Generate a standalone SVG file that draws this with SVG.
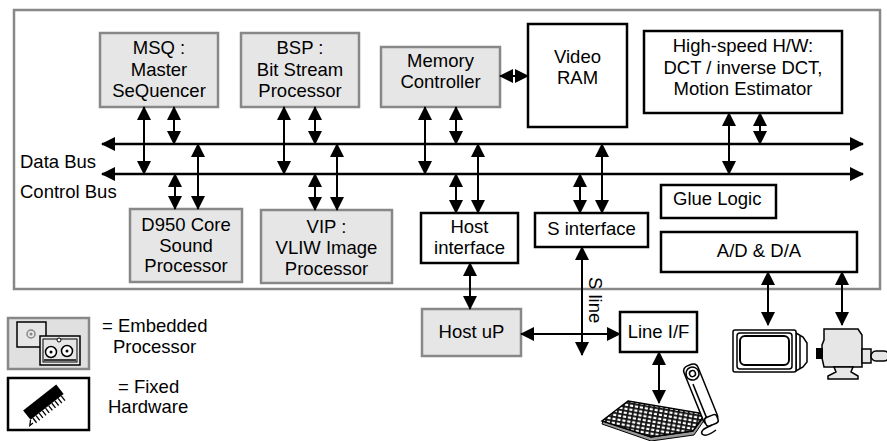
<svg xmlns="http://www.w3.org/2000/svg" width="887" height="441" viewBox="0 0 887 441">
  <style>
    .t { font-family: "Liberation Sans", Arial, sans-serif; font-size: 18.5px; fill: #000; }
    .c { text-anchor: middle; }
    .gbox { fill: #e6e6e6; stroke: #888; stroke-width: 2.5; }
    .bbox { fill: #fff; stroke: #000; stroke-width: 2.5; }
    .bus { stroke: #000; stroke-width: 2.5; marker-start: url(#ah); marker-end: url(#ah); }
    #connectors line { stroke: #000; stroke-width: 2; marker-start: url(#ah); marker-end: url(#ah); }
    .ln { fill: none; stroke: #000; stroke-width: 1.5; }
  </style>
  <defs>
    <marker id="ah" viewBox="0 0 14 14" refX="13" refY="7" markerWidth="14" markerHeight="14" markerUnits="userSpaceOnUse" orient="auto-start-reverse">
      <path d="M0,0 L14,7 L0,14 z" fill="#000"/>
    </marker>
    <pattern id="keys" width="5" height="4" patternUnits="userSpaceOnUse" patternTransform="rotate(10)">
      <rect width="5" height="4" fill="#111"/>
      <rect x="0.8" y="0.8" width="3.2" height="2.2" fill="#fff"/>
    </pattern>
  </defs>

  <rect width="887" height="441" fill="#fff"/>

  <!-- chip boundary -->
  <rect id="chip" x="14" y="10" width="866" height="279" fill="#fff" stroke="#888" stroke-width="2.5"/>

  <!-- buses -->
  <g id="buses">
    <line class="bus" x1="102" y1="144" x2="863" y2="144"/>
    <line class="bus" x1="102" y1="174" x2="863" y2="174"/>
    <text class="t" x="20" y="168">Data Bus</text>
    <text class="t" x="20" y="198">Control Bus</text>
  </g>

  <g id="msq">
    <rect class="gbox" x="100" y="33" width="118" height="74"/>
    <text class="t c" x="159" y="54">MSQ :</text>
    <text class="t c" x="159" y="76">Master</text>
    <text class="t c" x="159" y="97">SeQuencer</text>
  </g>

  <g id="bsp">
    <rect class="gbox" x="241" y="33" width="118" height="74"/>
    <text class="t c" x="300" y="54">BSP :</text>
    <text class="t c" x="300" y="76">Bit Stream</text>
    <text class="t c" x="300" y="97">Processor</text>
  </g>

  <g id="memctrl">
    <rect class="gbox" x="381" y="47" width="119" height="60"/>
    <text class="t c" x="440.5" y="67">Memory</text>
    <text class="t c" x="440.5" y="88">Controller</text>
  </g>

  <g id="vram">
    <rect class="bbox" x="528" y="24" width="99" height="103"/>
    <text class="t c" x="577.5" y="63">Video</text>
    <text class="t c" x="577.5" y="84">RAM</text>
  </g>

  <g id="hshw">
    <rect class="bbox" x="644" y="31" width="198" height="82"/>
    <text class="t c" x="743" y="52">High-speed H/W:</text>
    <text class="t c" x="743" y="74">DCT / inverse DCT,</text>
    <text class="t c" x="743" y="95">Motion Estimator</text>
  </g>

  <g id="d950">
    <rect class="gbox" x="130" y="209" width="112" height="73"/>
    <text class="t c" x="186" y="231">D950 Core</text>
    <text class="t c" x="186" y="252">Sound</text>
    <text class="t c" x="186" y="272">Processor</text>
  </g>

  <g id="vip">
    <rect class="gbox" x="261" y="210" width="131" height="73"/>
    <text class="t c" x="326.5" y="233">VIP :</text>
    <text class="t c" x="326.5" y="254">VLIW Image</text>
    <text class="t c" x="326.5" y="275">Processor</text>
  </g>

  <g id="hostif">
    <rect class="bbox" x="421" y="213" width="97" height="50"/>
    <text class="t c" x="469.5" y="233">Host</text>
    <text class="t c" x="469.5" y="254">interface</text>
  </g>

  <g id="sif">
    <rect class="bbox" x="535" y="213" width="113" height="34"/>
    <text class="t c" x="591.5" y="235">S interface</text>
  </g>

  <g id="glue">
    <rect class="bbox" x="661" y="185" width="115" height="33"/>
    <text class="t" x="673" y="205">Glue Logic</text>
  </g>

  <g id="adda">
    <rect class="bbox" x="661" y="232" width="196" height="40"/>
    <text class="t c" x="759" y="257">A/D &amp; D/A</text>
  </g>

  <g id="hostup">
    <rect class="gbox" x="422" y="309" width="99" height="47"/>
    <text class="t c" x="471.5" y="338">Host uP</text>
  </g>

  <g id="lineif">
    <rect class="bbox" x="620" y="312" width="77" height="40"/>
    <text class="t c" x="658.5" y="338">Line I/F</text>
  </g>

  <!-- connectors -->
  <g id="connectors">
    <line x1="144" y1="107" x2="144" y2="174"/>
    <line x1="174" y1="107" x2="174" y2="144"/>
    <line x1="175" y1="174" x2="175" y2="209"/>
    <line x1="198" y1="144" x2="198" y2="209"/>
    <line x1="284" y1="107" x2="284" y2="174"/>
    <line x1="315" y1="107" x2="315" y2="144"/>
    <line x1="315" y1="174" x2="315" y2="210"/>
    <line x1="337" y1="144" x2="337" y2="210"/>
    <line x1="425" y1="107" x2="425" y2="174"/>
    <line x1="456" y1="107" x2="456" y2="144"/>
    <line x1="456" y1="174" x2="456" y2="213"/>
    <line x1="478" y1="144" x2="478" y2="213"/>
    <line x1="580" y1="174" x2="580" y2="213"/>
    <line x1="602" y1="144" x2="602" y2="213"/>
    <line x1="729" y1="113" x2="729" y2="174"/>
    <line x1="760" y1="113" x2="760" y2="144"/>
    <line x1="500" y1="76" x2="528" y2="76"/>
    <line x1="470" y1="263" x2="470" y2="309"/>
    <line x1="521" y1="334" x2="620" y2="334"/>
    <line x1="582" y1="247" x2="582" y2="355"/>
    <line x1="659" y1="352" x2="659" y2="403"/>
    <line x1="768" y1="272" x2="768" y2="325"/>
    <line x1="842" y1="272" x2="842" y2="325"/>
    <text class="t" transform="translate(589,277) rotate(90)">S line</text>
  </g>

  <!-- display monitor -->
  <g id="monitor">
    <path d="M796,333 L803,337 L807,343 L807,362 L803,367 L796,371 Z" fill="#fff" stroke="#000" stroke-width="1.5"/>
    <line class="ln" x1="800" y1="336" x2="800" y2="369"/>
    <rect x="733" y="330" width="63" height="42" rx="2" fill="#fff" stroke="#000" stroke-width="1.5"/>
    <rect x="737" y="333" width="55" height="36" rx="3" class="ln"/>
    <rect x="740" y="336" width="49" height="29" rx="5" fill="#fff" stroke="#000" stroke-width="2"/>
  </g>

  <!-- video camera -->
  <g id="camera">
    <path d="M824,329 L858,329 L862,335 L862,367 L824,367 L822,358 L822,345 L824,340 Z" fill="#e6e6e6" stroke="#000" stroke-width="1.5"/>
    <rect x="816" y="348" width="7" height="11" fill="#000"/>
    <rect x="862" y="349" width="9" height="14" fill="#e6e6e6" stroke="#000" stroke-width="1.5"/>
    <rect x="871" y="351" width="18" height="10" rx="5" fill="#e6e6e6" stroke="#000" stroke-width="1.5"/>
    <path d="M834,367 L853,367 L851,372 L858,376 L858,379 L828,379 L828,376 L836,372 Z" fill="#e6e6e6" stroke="#000" stroke-width="1.5"/>
  </g>

  <!-- keyboard -->
  <g id="keyboard">
    <path d="M603,421 L651,437 L693,431 L705,416 L705,419 L694,435 L651,441 L602,424 Z" fill="#999" stroke="#000" stroke-width="1"/>
    <path d="M628,401 L705,414 L693,431 L651,437 L602,421 Z" fill="url(#keys)" stroke="#000" stroke-width="1.5"/>
  </g>

  <!-- telephone handset -->
  <g id="phone">
    <g transform="translate(701,396) rotate(-22)">
      <rect x="-7" y="-33" width="15" height="62" rx="5" fill="#fff" stroke="#000" stroke-width="1.5"/>
      <circle cx="0.5" cy="-24" r="6.5" fill="#fff" stroke="#000" stroke-width="1.5"/>
      <circle cx="0.5" cy="-24" r="3" fill="#fff" stroke="#000" stroke-width="1.5"/>
      <line class="ln" x1="-3" y1="-14" x2="-3" y2="24"/>
      <rect x="-6" y="22" width="13" height="9" rx="3" fill="#fff" stroke="#000" stroke-width="1.5"/>
    </g>
    <path d="M712,425 C706,428 700,430 702,434 C705,437 712,433 716,430" class="ln"/>
  </g>

  <!-- legend -->
  <g id="legend-embedded">
    <rect x="8" y="318" width="81" height="51" fill="#e0e0e0" stroke="#888" stroke-width="2.5"/>
    <rect x="17" y="322" width="29" height="25" fill="#e6e6e6" stroke="#000" stroke-width="1.5"/>
    <circle cx="31" cy="334" r="4" fill="none" stroke="#888" stroke-width="1.5"/>
    <circle cx="31" cy="334" r="1.5" fill="#888"/>
    <rect x="40" y="336" width="40" height="29" fill="#e6e6e6" stroke="#000" stroke-width="1.5"/>
    <rect x="43" y="339" width="34" height="23" fill="none" stroke="#000" stroke-width="1"/>
    <circle cx="51" cy="352" r="5.5" fill="#fff" stroke="#000" stroke-width="1.5"/>
    <circle cx="51" cy="352" r="1.5" fill="#000"/>
    <circle cx="67" cy="351" r="5.5" fill="#fff" stroke="#000" stroke-width="1.5"/>
    <circle cx="67" cy="351" r="1.5" fill="#000"/>
    <circle cx="59" cy="340" r="2" fill="#fff" stroke="#000" stroke-width="1"/>
    <line x1="44" y1="360" x2="76" y2="360" stroke="#000" stroke-width="1.5"/>
    <text class="t" x="102" y="332">= Embedded</text>
    <text class="t" x="113" y="353">Processor</text>
  </g>

  <g id="legend-fixed">
    <rect x="8" y="378" width="81" height="52" fill="#fff" stroke="#000" stroke-width="2.5"/>
    <g transform="translate(44,403) rotate(-38)">
      <rect x="-21" y="-7" width="42" height="12" fill="#000"/>
      <path d="M-18,5 v6 M-14,5 v6 M-10,5 v6 M-6,5 v6 M-2,5 v6 M2,5 v6 M6,5 v6 M10,5 v6 M14,5 v6 M18,5 v6" stroke="#000" stroke-width="1.3"/>
      <path d="M-21,5 L-25,9 L-21,9" fill="none" stroke="#000" stroke-width="1.3"/>
    </g>
    <text class="t" x="118" y="393">= Fixed</text>
    <text class="t" x="108" y="413">Hardware</text>
  </g>
</svg>
